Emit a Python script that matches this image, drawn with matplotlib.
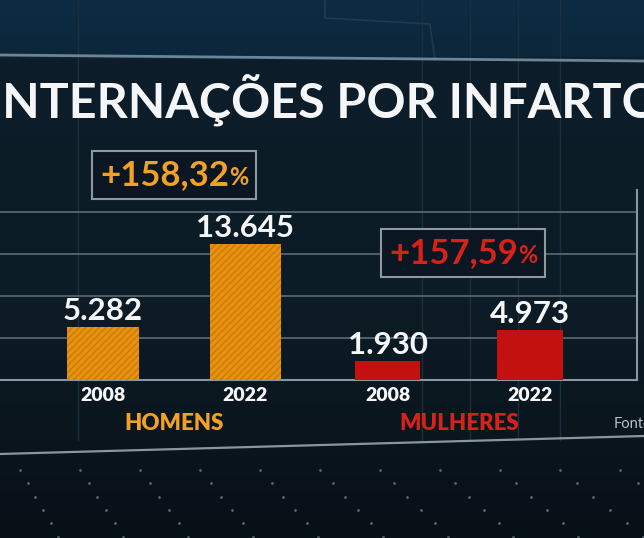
import numpy as np
import matplotlib
matplotlib.use("Agg")
import matplotlib.pyplot as plt
from matplotlib.offsetbox import TextArea, HPacker, AnnotationBbox

# data
groups = ["HOMENS", "MULHERES"]
years = ["2008", "2022", "2008", "2022"]
values = [5282, 13645, 1930, 4973]
value_labels = ["5.282", "13.645", "1.930", "4.973"]
changes = ["+158,32", "+157,59"]
title = "INTERNAÇÕES POR INFARTO"

FONT = ["Lato", "DejaVu Sans"]
ORANGE = "#e8920f"
ORANGE_TXT = "#f2a126"
RED = "#c3110f"
RED_TXT = "#d92119"
WHITE = "#f4f6f7"
LINE = "#56656f"

W, H = 644, 538
fig = plt.figure(figsize=(W / 100, H / 100), dpi=100)

# background canvas in pixel coordinates
bg = fig.add_axes([0, 0, 1, 1])
bg.set_xlim(0, W)
bg.set_ylim(H, 0)
bg.axis("off")
stops_y = [0, 55, 60, 300, 450, 538]
stops_c = [(0.05, 0.17, 0.26), (0.05, 0.15, 0.23), (0.05, 0.11, 0.16),
           (0.05, 0.11, 0.15), (0.04, 0.08, 0.11), (0.03, 0.06, 0.09)]
rows = np.arange(H)
grad = np.stack([np.interp(rows, stops_y, [c[i] for c in stops_c]) for i in range(3)], axis=-1)
bg.imshow(np.repeat(grad[:, None, :], 2, axis=1), extent=(0, W, H, 0), aspect="auto", zorder=0)

# decorative studio lines
for x in [78, 422, 470, 518, 560]:
    bg.plot([x, x], [0, 440], color="#1a2e3d", lw=1, zorder=1)
bg.plot([325, 325, 430, 435], [0, 18, 24, 60], color="#1f3a4d", lw=1.2, zorder=1)
bg.plot([0, W], [55, 61], color="#6d8596", lw=2, zorder=1)
bg.plot([0, W], [454, 436], color="#8797a2", lw=1.6, zorder=1)
for i, x0 in enumerate(np.arange(-40, 700, 60)):
    t = np.linspace(0, 1, 7)
    xs = x0 + t * (40 + i * 6)
    ys = 470 + t * 80
    bg.scatter(xs, ys, s=4, color="#56666f", zorder=1, lw=0)

# title (cut at both edges, as in the broadcast frame)
tt = fig.text(324 / W, 1 - 117 / H, title, color=WHITE, fontsize=40, fontweight="bold",
              family=FONT, ha="center", va="baseline")
fig.canvas.draw()
tw = tt.get_window_extent().width
tt.set_fontsize(40 * 672 / tw)

# data axes
base_px, top_px, right_px = 380, 190, 637
ax = fig.add_axes([0, (H - base_px) / H, right_px / W, (base_px - top_px) / H])
ax.patch.set_alpha(0)
scale = 142.33
ax.set_xlim(-103 / scale, (right_px - 103) / scale)
ax.set_ylim(0, (base_px - top_px) * 100)

x = np.arange(len(values))
plt.rcParams["hatch.linewidth"] = 1.0
ax.bar(x[:2], values[:2], width=0.5, color=ORANGE, edgecolor="#c97a0c", lw=0,
       hatch="/////", zorder=3)
ax.bar(x[2:], values[2:], width=0.46, color=RED, lw=0, zorder=3)

ax.set_yticks([4200, 8400, 12600, 16800])
ax.set_xticks([])
ax.tick_params(length=0, labelleft=False)
ax.grid(axis="y", color=LINE, lw=1.3, zorder=1)
for s in ["left", "top"]:
    ax.spines[s].set_visible(False)
ax.spines["right"].set_color("#8a979f")
ax.spines["bottom"].set_color("#8a979f")
ax.spines["right"].set_linewidth(1.5)
ax.spines["bottom"].set_linewidth(1.5)

for xi, v, lab, yr in zip(x, values, value_labels, years):
    ax.annotate(lab, (xi, v), xytext=(0, 5), textcoords="offset points", ha="center",
                va="baseline", color=WHITE, fontsize=22.5, fontweight="bold", family=FONT,
                zorder=4)
    ax.annotate(yr, (xi, 0), xytext=(0, -5), textcoords="offset points", ha="center",
                va="top", color=WHITE, fontsize=14, fontweight="heavy", family=FONT,
                annotation_clip=False)

group_colors = [ORANGE_TXT, RED_TXT]
for gi, (g, c) in enumerate(zip(groups, group_colors)):
    ax.annotate(g, (2 * gi + 0.5, 0), xytext=(0, -24), textcoords="offset points",
                ha="center", va="top", color=c, fontsize=16, fontweight="heavy",
                family=FONT, annotation_clip=False)

# percentage boxes
box_pos = [(0.5, 20500), (2.53, 12700)]
for txt, c, pos in zip(changes, group_colors, box_pos):
    main = TextArea(txt, textprops=dict(color=c, fontsize=25, fontweight="bold", family=FONT))
    pct = TextArea("%", textprops=dict(color=c, fontsize=17, fontweight="bold", family=FONT))
    pack = HPacker(children=[main, pct], align="baseline", pad=0, sep=0)
    ab = AnnotationBbox(pack, pos, xycoords="data", frameon=True, pad=0.55,
                        bboxprops=dict(edgecolor="#8d989f", facecolor="#0a1621", lw=1.5),
                        annotation_clip=False, zorder=5)
    ax.add_artist(ab)

fig.text(614 / W, 1 - 428 / H, "Fonte", color="#b9c2c8", fontsize=10.5, family=FONT,
         ha="left", va="baseline")

fig.savefig("out.png", dpi=100)
